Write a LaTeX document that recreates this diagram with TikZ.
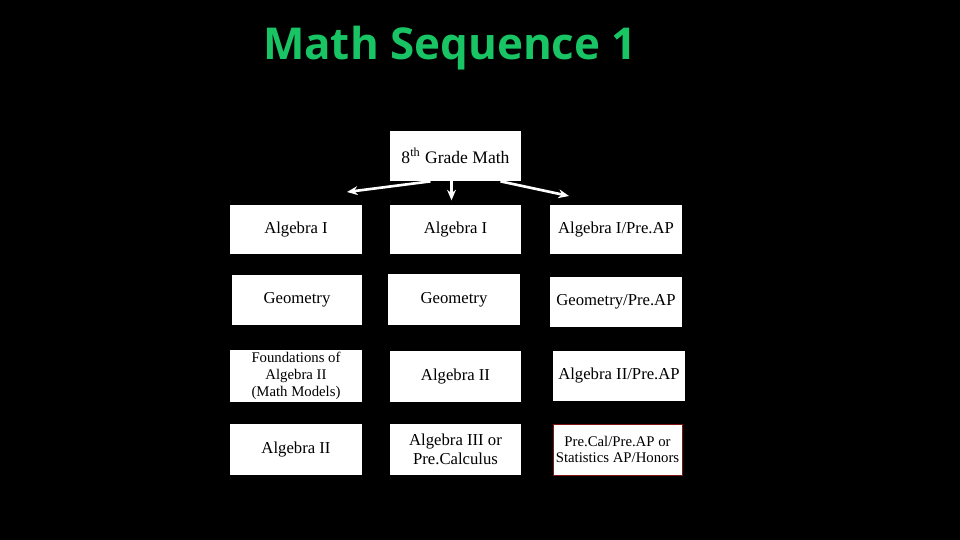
\documentclass[tikz,border=0pt]{standalone}
\usepackage{fontspec}
\setmainfont{Liberation Serif}
\newfontfamily\titlefont{Open Sans}
\usetikzlibrary{arrows.meta, positioning}
\definecolor{titlegreen}{RGB}{24, 196, 100}
\definecolor{boxred}{RGB}{125, 20, 20}

\tikzset{
  course/.style={fill=white, inner sep=1pt, minimum width=2.64cm, minimum height=1cm,
    align=center, font=\fontsize{9.5}{11}\selectfont},
  small/.style={font=\fontsize{8.4}{9.6}\selectfont},
}

\begin{document}
\begin{tikzpicture}[x=0.02cm, y=-0.02cm, >={Stealth[length=6pt, width=5pt]}]
  \fill[black] (0,0) rectangle (960,540);
  \node[titlegreen, anchor=base] (title) at (450,60) {\titlefont\bfseries\fontsize{25}{30}\selectfont Math Sequence 1};

  \node[course, font=\fontsize{10}{12}\selectfont] (grade) at (455.5,156) {8\textsuperscript{th} Grade Math};

  % row 1
  \node[course, minimum height=0.98cm] (a1) at (296,229.5) {Algebra I};
  \node[course, minimum height=0.98cm] (b1) at (455.5,229.5) {Algebra I};
  \node[course, minimum height=0.98cm] (c1) at (616,229.5) {Algebra I/Pre.AP};
  % row 2
  \node[course, minimum width=2.6cm] (a2) at (297,300) {Geometry};
  \node[course, minimum height=1.02cm] (b2) at (454,299.5) {Geometry};
  \node[course] (c2) at (616,302) {Geometry/Pre.AP};
  % row 3
  \node[course, small, minimum height=1.04cm] (a3) at (296,376) {Foundations of\\Algebra II\\(Math Models)};
  \node[course, minimum height=1.02cm] (b3) at (455.5,376.5) {Algebra II};
  \node[course] (c3) at (619,376) {Algebra II/Pre.AP};
  % row 4
  \node[course, minimum height=1.02cm] (a4) at (296,449.5) {Algebra II};
  \node[course, minimum height=1.02cm] (b4) at (455.5,449.5) {Algebra III or\\Pre.Calculus};
  \node[course, small, draw=boxred, minimum width=2.58cm, minimum height=1.02cm] (c4) at (617.5,449.5) {Pre.Cal/Pre.AP or\\Statistics AP/Honors};

  \coordinate (lend) at (347,192);
  \coordinate (rend) at (569,196);
  \draw[->, white, line width=1.5pt] ([xshift=-0.5cm]grade.south) -- (lend);
  \draw[->, white, line width=1.5pt] ([xshift=-0.08cm]grade.south) -- ([xshift=-0.08cm, yshift=-0.38cm]grade.south);
  \draw[->, white, line width=1.5pt] ([xshift=0.9cm]grade.south) -- (rend);
\end{tikzpicture}
\end{document}
